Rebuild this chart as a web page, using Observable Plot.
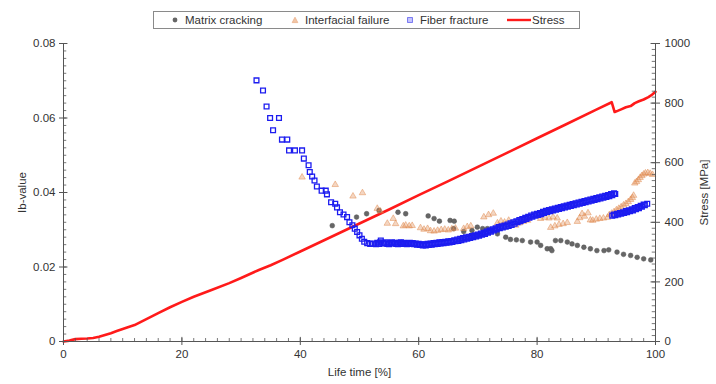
<!DOCTYPE html>
<html>
<head>
<meta charset="utf-8">
<script src="https://cdn.jsdelivr.net/npm/d3@7"></script>
<script src="https://cdn.jsdelivr.net/npm/@observablehq/plot@0.6"></script>
<style>
  html, body { margin: 0; padding: 0; background: #fff; }
  #wrap { position: relative; width: 716px; height: 384px; font-family: "Liberation Sans", Arial, sans-serif; }
  #legend { position: absolute; left: 153px; top: 11px; width: 427px; height: 18px; border: 1px solid #8a8a8a; box-sizing: border-box;
            display: flex; align-items: center; font-size: 11.5px; color: #333; background: #fff; }
  #legend span.item { position: absolute; display: flex; align-items: center; white-space: nowrap; }
  #legend svg { margin-right: 6px; }
</style>
</head>
<body>
<div id="wrap">
  <div id="chart"></div>
  <div id="legend"></div>
</div>
<script>
// ---------- data ----------
const xTicks = [0, 20, 40, 60, 80, 100];
const ibTicks = [0, 0.02, 0.04, 0.06, 0.08];
const stressTicks = [0, 200, 400, 600, 800, 1000];
const seriesNames = ["Matrix cracking", "Interfacial failure", "Fiber fracture", "Stress"];

// Stress curve: [life time %, stress MPa]
const stress = [
  [0, 0], [1, 3], [2, 8], [3, 9], [4, 10], [5, 12], [6, 16], [7, 22], [8, 28], [9, 35], [10, 42],
  [12, 55], [14, 75], [16, 95], [18, 115], [20, 133], [22, 150], [25, 173], [28, 196], [30, 213],
  [33, 240], [35, 256], [37, 274], [40, 302], [45, 349], [50, 396], [55, 443], [60, 491],
  [65, 538], [70, 586], [75, 634], [80, 682], [85, 730], [90, 778], [92.6, 803],
  [93.1, 770], [93.6, 774], [94.2, 779], [95, 786], [95.8, 790], [96.5, 800], [97.2, 806],
  [98, 812], [98.8, 820], [99.4, 828], [100, 838]
];

// Matrix cracking: [life time %, Ib-value]
const matrix = [
  [45.4, 0.0311], [49.5, 0.0334], [51.2, 0.0343], [53.3, 0.0352], [56.5, 0.0347], [57.8, 0.0343],
  [61.6, 0.0337], [62.6, 0.0330], [63.5, 0.0323], [65.3, 0.0325], [66.0, 0.0323], [65.9, 0.0303],
  [67.6, 0.0295], [69.0, 0.0298], [69.9, 0.0307], [70.8, 0.0303], [71.6, 0.0303], [72.4, 0.0298],
  [73.3, 0.0289], [74.7, 0.0280], [75.5, 0.0274], [76.5, 0.0273], [77.5, 0.0271], [78.9, 0.0267],
  [80.0, 0.0267], [80.6, 0.0258], [81.7, 0.0249], [82.3, 0.0249], [82.5, 0.0244], [83.1, 0.0271],
  [84.0, 0.0271], [85.1, 0.0267], [85.9, 0.0262], [86.8, 0.0258], [87.9, 0.0253], [89.0, 0.0249],
  [90.1, 0.0244], [91.3, 0.0244], [92.1, 0.0246], [93.5, 0.0240], [94.6, 0.0234], [95.8, 0.0231],
  [96.9, 0.0226], [98.0, 0.0222], [99.2, 0.0219]
];

// Interfacial failure: [life time %, Ib-value]
const interfacial = [
  [40.3, 0.0441], [45.9, 0.0421], [48.9, 0.0390], [50.5, 0.0399], [53.0, 0.0357], [53.5, 0.0350],
  [54.7, 0.0317], [55.7, 0.0330], [56.1, 0.0316], [57.4, 0.0310], [57.8, 0.0312], [58.4, 0.0310],
  [58.9, 0.0311], [60.3, 0.0305], [60.9, 0.0301], [61.5, 0.0303], [62.0, 0.0297], [62.6, 0.0296],
  [63.2, 0.0298], [63.8, 0.0300], [64.4, 0.0301], [65.0, 0.0299], [65.6, 0.0302], [66.2, 0.0304],
  [67.6, 0.0303], [68.2, 0.0308], [68.8, 0.0310], [71.0, 0.0334], [71.8, 0.0340], [72.6, 0.0344],
  [73.3, 0.0318], [73.9, 0.0323], [74.5, 0.0320], [75.2, 0.0325], [76.4, 0.0312], [77.0, 0.0318],
  [77.7, 0.0322], [78.4, 0.0325], [80.6, 0.0330], [81.3, 0.0333], [82.0, 0.0331], [82.7, 0.0334],
  [83.4, 0.0331], [82.3, 0.0306], [83.0, 0.0310], [83.7, 0.0314], [84.4, 0.0316], [85.1, 0.0319],
  [86.8, 0.0322], [87.2, 0.0332], [87.6, 0.0343], [88.0, 0.0336], [88.6, 0.0345], [89.0, 0.0326],
  [89.4, 0.0325], [90.0, 0.0328], [90.6, 0.0330], [91.2, 0.0331], [91.9, 0.0333], [92.2, 0.0340],
  [92.6, 0.0344], [93.0, 0.0348], [93.4, 0.0353], [93.8, 0.0357], [94.2, 0.0361], [94.6, 0.0366],
  [95.0, 0.0370], [95.4, 0.0375], [95.8, 0.0381], [96.1, 0.0386], [96.3, 0.0392], [96.5, 0.0425],
  [96.8, 0.0429], [97.1, 0.0434], [97.4, 0.0440], [97.7, 0.0445], [98.0, 0.0449], [98.3, 0.0452],
  [98.7, 0.0453], [99.1, 0.0451], [99.5, 0.0448]
];

// Fiber fracture: [life time %, Ib-value]
const fiber = [
  [32.6, 0.0701], [33.7, 0.0674], [34.3, 0.0631], [34.9, 0.0600], [36.4, 0.0600], [35.4, 0.0567],
  [36.9, 0.0542], [37.8, 0.0542], [38.1, 0.0513], [39.1, 0.0513], [40.3, 0.0513], [40.6, 0.0491],
  [41.4, 0.0473], [41.6, 0.0455], [42.0, 0.0443], [42.4, 0.0432], [42.8, 0.0416], [43.6, 0.0405],
  [44.3, 0.0405], [44.5, 0.0395], [45.2, 0.0374], [45.9, 0.0370], [46.2, 0.0360], [46.7, 0.0347],
  [47.3, 0.0341], [47.9, 0.0334], [48.3, 0.0320], [48.8, 0.0312], [49.2, 0.0303], [49.6, 0.0294],
  [50.0, 0.0285], [50.4, 0.0276], [50.8, 0.0268], [51.3, 0.0264], [51.8, 0.0262], [52.3, 0.0263],
  [52.8, 0.0261], [53.3, 0.0262], [53.6, 0.0271], [54.2, 0.0263], [54.7, 0.0262], [55.2, 0.0264],
  [55.7, 0.0263], [56.2, 0.0262], [56.7, 0.0265], [57.2, 0.0262], [57.7, 0.0263], [58.2, 0.0264],
  [58.7, 0.0262], [59.2, 0.0261], [59.7, 0.0260], [60.2, 0.0259], [60.7, 0.0258], [61.2, 0.0258],
  [61.7, 0.0259], [62.2, 0.0260], [62.7, 0.0261], [63.2, 0.0262], [63.7, 0.0263], [64.2, 0.0264],
  [64.7, 0.0265], [65.2, 0.0266], [65.7, 0.0267], [66.2, 0.0269], [66.7, 0.0270], [67.2, 0.0272],
  [67.7, 0.0274], [68.2, 0.0276], [68.7, 0.0278], [69.2, 0.0280], [69.7, 0.0282], [70.2, 0.0284],
  [70.7, 0.0287], [71.2, 0.0289], [71.7, 0.0292], [72.2, 0.0295], [72.7, 0.0298], [73.2, 0.0301],
  [73.7, 0.0304], [74.2, 0.0306], [74.7, 0.0308], [75.2, 0.0310], [75.7, 0.0313], [76.2, 0.0316],
  [76.7, 0.0320], [77.2, 0.0323], [77.7, 0.0326], [78.2, 0.0329], [78.7, 0.0332], [79.2, 0.0335],
  [79.7, 0.0338], [80.2, 0.0340], [80.7, 0.0342], [81.2, 0.0345], [81.7, 0.0348], [82.2, 0.0350],
  [82.7, 0.0352], [83.2, 0.0354], [83.7, 0.0356], [84.2, 0.0358], [84.7, 0.0360], [85.2, 0.0362],
  [85.7, 0.0364], [86.2, 0.0366], [86.7, 0.0368], [87.2, 0.0370], [87.7, 0.0372], [88.2, 0.0374],
  [88.7, 0.0376], [89.2, 0.0378], [89.7, 0.0380], [90.2, 0.0382], [90.7, 0.0384], [91.2, 0.0386],
  [91.7, 0.0388], [92.2, 0.0390], [92.7, 0.0393], [93.2, 0.0396],
  [53.0, 0.0265], [53.5, 0.0266], [54.0, 0.0264], [54.5, 0.0266], [55.0, 0.0261], [55.5, 0.0266],
  [56.0, 0.0265], [56.5, 0.0261], [57.0, 0.0266], [57.5, 0.0265], [58.0, 0.0261], [58.5, 0.0265],
  [59.0, 0.0264], [59.5, 0.0263], [60.0, 0.0262], [60.5, 0.0261], [61.0, 0.0261], [61.5, 0.0262],
  [62.0, 0.0263], [62.5, 0.0264], [63.0, 0.0265], [63.5, 0.0266], [64.0, 0.0267], [64.5, 0.0268],
  [65.0, 0.0269], [65.5, 0.0270], [66.0, 0.0272], [66.5, 0.0274], [67.0, 0.0276], [67.5, 0.0278],
  [68.0, 0.0280], [68.5, 0.0281], [69.0, 0.0283], [69.5, 0.0285], [70.0, 0.0287], [70.5, 0.0290],
  [71.0, 0.0292], [71.5, 0.0295], [72.0, 0.0298], [72.5, 0.0301], [73.0, 0.0304], [73.5, 0.0307],
  [74.0, 0.0309], [74.5, 0.0311], [75.0, 0.0314], [75.5, 0.0317], [76.0, 0.0320], [76.5, 0.0323],
  [77.0, 0.0326], [77.5, 0.0329], [78.0, 0.0332], [78.5, 0.0335], [79.0, 0.0338], [79.5, 0.0341],
  [80.0, 0.0343], [80.5, 0.0345], [81.0, 0.0348], [81.5, 0.0351], [82.0, 0.0353], [82.5, 0.0355],
  [83.0, 0.0357], [83.5, 0.0359], [84.0, 0.0361], [84.5, 0.0363], [85.0, 0.0365], [85.5, 0.0367],
  [86.0, 0.0369], [86.5, 0.0371], [87.0, 0.0373], [87.5, 0.0375], [88.0, 0.0377], [88.5, 0.0379],
  [89.0, 0.0381], [89.5, 0.0383], [90.0, 0.0385], [90.5, 0.0387], [91.0, 0.0389], [91.5, 0.0391],
  [92.0, 0.0393], [92.5, 0.0396], [93.0, 0.0398],
  [92.7, 0.0338], [93.2, 0.0339], [93.7, 0.0341], [94.2, 0.0343], [94.7, 0.0345], [95.2, 0.0347],
  [95.7, 0.0350], [96.2, 0.0352], [96.7, 0.0355], [97.2, 0.0358], [97.7, 0.0362], [98.2, 0.0366],
  [98.6, 0.0370],
  [93.0, 0.0341], [93.5, 0.0343], [94.0, 0.0345], [94.5, 0.0347], [95.0, 0.0350], [95.5, 0.0352],
  [96.0, 0.0355], [96.5, 0.0358], [97.0, 0.0361], [97.5, 0.0364], [98.0, 0.0368]
];

// ---------- chart ----------
const yMax = 0.08, sMax = 1000;
const s2y = s => s * yMax / sMax;
const axisColor = "#555";
const textColor = "#333";
const minorX = d3.range(0, 101, 2);
const minorY = d3.range(0, 0.0801, 0.002);
const minorS = d3.range(0, 1001, 20).map(s2y);

const chart = Plot.plot({
  width: 716,
  height: 384,
  marginLeft: 63,
  marginRight: 61,
  marginTop: 43,
  marginBottom: 43,
  style: { fontFamily: "'Liberation Sans', Arial, sans-serif", fontSize: "11.5px", color: textColor, background: "transparent" },
  x: { domain: [0, 100] },
  y: { domain: [0, yMax] },
  marks: [
    // stress line (secondary axis, mapped onto the Ib-value scale)
    Plot.line(stress, { x: d => d[0], y: d => s2y(d[1]), stroke: "#ff1a1a", strokeWidth: 2.6 }),
    // matrix cracking
    Plot.dot(matrix, { x: d => d[0], y: d => d[1], r: 2.4, fill: "#666", stroke: "#555", strokeWidth: 0.5 }),
    // interfacial failure
    Plot.dot(interfacial, { x: d => d[0], y: d => d[1], symbol: "triangle", r: 2.4,
      fill: "#e08a50", fillOpacity: 0.35, stroke: "#e08a50", strokeOpacity: 0.55, strokeWidth: 0.9 }),
    // fiber fracture
    Plot.dot(fiber, { x: d => d[0], y: d => d[1], symbol: "square", r: 2.7,
      fill: "none", stroke: "#1c1cf0", strokeWidth: 1.3 }),
    // axis lines
    Plot.ruleY([0], { stroke: axisColor }),
    Plot.ruleX([0], { stroke: axisColor }),
    Plot.ruleX([100], { stroke: axisColor }),
    // minor ticks (inside)
    Plot.ruleX(minorX, { x: d => d, y1: 0, y2: 0.0008, stroke: axisColor, strokeWidth: 0.8 }),
    Plot.ruleY(minorY, { y: d => d, x1: 0, x2: 0.55, stroke: axisColor, strokeWidth: 0.8 }),
    Plot.ruleY(minorS, { y: d => d, x1: 99.45, x2: 100, stroke: axisColor, strokeWidth: 0.8 }),
    // major ticks inward part
    Plot.ruleX(xTicks, { x: d => d, y1: 0, y2: 0.0011, stroke: axisColor }),
    Plot.ruleY(ibTicks, { y: d => d, x1: 0, x2: 0.75, stroke: axisColor }),
    Plot.ruleY(stressTicks.map(s2y), { y: d => d, x1: 99.25, x2: 100, stroke: axisColor }),
    // axes
    Plot.axisX({ ticks: xTicks, tickSize: 4, tickPadding: 4, stroke: axisColor, fill: textColor,
      tickFormat: d => String(d), label: "Life time [%]", labelAnchor: "center", labelOffset: 34, labelArrow: "none" }),
    Plot.axisY({ ticks: ibTicks, tickSize: 4, tickPadding: 4, stroke: axisColor, fill: textColor,
      tickFormat: d => d === 0 ? "0" : d.toFixed(2), label: "Ib-value", labelAnchor: "center", labelOffset: 46, labelArrow: "none" }),
    Plot.axisY({ anchor: "right", ticks: stressTicks.map(s2y), tickSize: 4, tickPadding: 5, stroke: axisColor, fill: textColor,
      tickFormat: d => String(Math.round(d * sMax / yMax)), label: "Stress [MPa]", labelAnchor: "center", labelOffset: 52, labelArrow: "none" })
  ]
});
document.getElementById("chart").appendChild(chart);

// ---------- legend (HTML above the svg) ----------
const legend = document.getElementById("legend");
const sym = {
  "Matrix cracking": `<svg width="8" height="8"><circle cx="4" cy="4" r="2.4" fill="#666"/></svg>`,
  "Interfacial failure": `<svg width="8" height="8"><path d="M4,1.2 L6.8,6.6 L1.2,6.6 Z" fill="#f2c6a6" stroke="#eab08a" stroke-width="0.8"/></svg>`,
  "Fiber fracture": `<svg width="8" height="8"><rect x="1.6" y="1.6" width="4.8" height="4.8" fill="#c8c8ff" stroke="#6a6af0" stroke-width="0.9"/></svg>`,
  "Stress": `<svg width="24" height="8" style="margin-right:1px"><line x1="0" y1="4" x2="24" y2="4" stroke="#ff1a1a" stroke-width="2.4"/></svg>`
};
const lefts = [17, 137, 252, 353];
seriesNames.forEach((name, i) => {
  const s = document.createElement("span");
  s.className = "item";
  s.style.left = lefts[i] + "px";
  s.innerHTML = sym[name] + `<span>${name}</span>`;
  legend.appendChild(s);
});
</script>
</body>
</html>
